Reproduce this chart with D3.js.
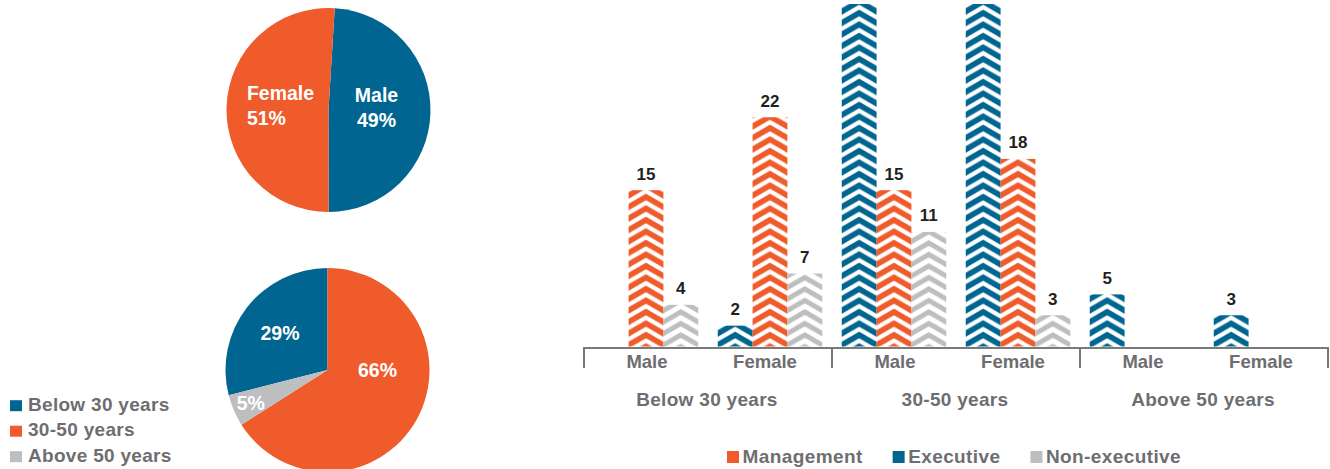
<!DOCTYPE html>
<html>
<head>
<meta charset="utf-8">
<script src="https://cdn.jsdelivr.net/npm/d3@7"></script>
<style>
  html, body { margin: 0; padding: 0; background: #fff; }
  svg { display: block; font-family: "Liberation Sans", Arial, Helvetica, sans-serif; font-weight: bold; }
</style>
</head>
<body>
<svg id="chart" width="1330" height="469"></svg>
<script>
// ---- Data ----
const genderLabels = ["Male", "Female"];
const genderShares = [49, 51];

const ageLabels = ["Below 30 years", "30-50 years", "Above 50 years"];
const ageShares = [29, 66, 5];

const roleLabels = ["Management", "Executive", "Non-executive"];
// one value per (age group, gender): Below30 M/F, 30-50 M/F, Above50 M/F
const management   = [15, 22, 15, 18, 0, 0];
const executive    = [0, 2, 43, 41, 5, 3];
const nonExecutive = [4, 7, 11, 3, 0, 0];

// ---- Styling ----
const ORANGE = "#EF5B2A", BLUE = "#006590", GRAY = "#BCBEC0";
const TEXT_GRAY = "#6D6E71", TEXT_DARK = "#231F20";
const roleColor = { "Management": ORANGE, "Executive": BLUE, "Non-executive": GRAY };
const ageColor = [BLUE, ORANGE, GRAY];
const genderColor = [BLUE, ORANGE];

const svg = d3.select("#chart");
const defs = svg.append("defs");

// ---- Pie helper ----
function drawPie(cx, cy, r, values, colors, startAngle, labelFn, labelRadius) {
  const pie = d3.pie().sort(null).value(d => d)
    .startAngle(startAngle).endAngle(startAngle + 2 * Math.PI);
  const arcs = pie(values);
  const arc = d3.arc().innerRadius(0).outerRadius(r);
  const g = svg.append("g").attr("transform", `translate(${cx},${cy})`);
  g.selectAll("path").data(arcs).join("path")
    .attr("d", arc)
    .attr("fill", (d, i) => colors[i]);
  const lg = g.append("g").attr("fill", "#fff").style("font-size", "19.5px");
  arcs.forEach((d, i) => {
    const span = d.endAngle - d.startAngle;
    let a = (d.startAngle + d.endAngle) / 2;
    // wide slices carry their label toward 3 o'clock when it falls inside them
    if (span > Math.PI) {
      let e = Math.PI / 2;
      while (e < d.startAngle) e += 2 * Math.PI;
      if (e <= d.endAngle) a = e;
    }
    const rr = labelRadius(d, r);
    const x = Math.sin(a) * rr, y = -Math.cos(a) * rr;
    labelFn(lg, d, i, x, y);
  });
}

// ---- Pie: gender split ----
drawPie(328.5, 110, 102, genderShares, genderColor, 3.5 * Math.PI / 180,
  (lg, d, i, x, y) => {
    const t = lg.append("text");
    t.append("tspan").attr("y", y - 9).text(genderLabels[i]);
    t.append("tspan").attr("y", y + 16).text(genderShares[i] + "%");
    const spans = t.selectAll("tspan");
    if (x < 0) {
      // left-justified block centred on the label point
      const w = d3.max(spans.nodes(), n => n.getComputedTextLength());
      spans.attr("x", x - w / 2).attr("text-anchor", "start");
    } else {
      spans.attr("x", x).attr("text-anchor", "middle");
    }
  },
  () => 48);

// ---- Pie: age split ----
drawPie(327.5, 370, 102, ageShares, ageColor, -104.4 * Math.PI / 180,
  (lg, d, i, x, y) => {
    lg.append("text").attr("x", x).attr("y", y + 6.5)
      .attr("text-anchor", "middle").text(ageShares[i] + "%");
  },
  (d, r) => (d.endAngle - d.startAngle) < 0.5 ? r * 0.82 : (d.endAngle - d.startAngle) > Math.PI ? r * 0.49 : r * 0.59);

// ---- Age legend ----
const ageLegend = svg.append("g").style("font-size", "19px");
ageLabels.forEach((lab, i) => {
  const base = 410.7 + i * 25.5;
  ageLegend.append("rect").attr("x", 10).attr("y", base - 10.5).attr("width", 12).attr("height", 11)
    .attr("fill", ageColor[i]);
  ageLegend.append("text").attr("x", 28).attr("y", base).attr("fill", TEXT_GRAY)
    .style("letter-spacing", "0.3px").text(lab);
});

// ---- Clustered bars ----
const barOrder = ["Executive", "Management", "Non-executive"];
const seriesValues = { "Management": management, "Executive": executive, "Non-executive": nonExecutive };
const cells = [];
ageLabels.forEach((age, gi) => genderLabels.forEach((gen, si) => {
  const idx = gi * 2 + si;
  barOrder.forEach(role => cells.push({ age, gen, role, value: seriesValues[role][idx] }));
}));

const x0 = d3.scaleBand().domain(ageLabels).range([584, 1328]);
const x1 = d3.scaleBand().domain(genderLabels).range([0, x0.bandwidth()]);
const x2 = d3.scaleBand().domain(barOrder).range([0, x1.bandwidth()]).paddingInner(0).paddingOuter(0.28);
const y = d3.scaleLinear().domain([0, 30]).range([346.5, 346.5 - 30 * 10.42]);
const plotTop = 4;

defs.append("clipPath").attr("id", "plotClip")
  .append("rect").attr("x", 580).attr("y", plotTop).attr("width", 750).attr("height", 350);

const bars = cells.filter(c => c.value > 0);
const bw = x2.bandwidth();
const P = 11.5, rise = 10;
const slope = rise / (bw / 2);
const cos = Math.cos(Math.atan(slope));

// chevron fill: one pattern per bar so the apex sits on the bar's centre line
bars.forEach((c, i) => {
  c.x = x0(c.age) + x1(c.gen) + x2(c.role);
  c.id = "chev" + i;
  const pat = defs.append("pattern").attr("id", c.id)
    .attr("patternUnits", "userSpaceOnUse")
    .attr("x", c.x).attr("y", y(0))
    .attr("width", bw).attr("height", P);
  const thick = (c.role === "Non-executive" ? 5.8 : 6.6) * cos;
  [-2, -1, 0, 1, 2].forEach(k => {
    const top = k * P, edge = top + rise + 3 * slope;
    pat.append("polyline")
      .attr("points", `-3,${edge} ${bw / 2},${top} ${bw + 3},${edge}`)
      .attr("fill", "none").attr("stroke", roleColor[c.role])
      .attr("stroke-width", thick).attr("stroke-linejoin", "miter");
  });
});

const plot = svg.append("g").attr("clip-path", "url(#plotClip)");
plot.selectAll("rect.bar").data(bars).join("rect")
  .attr("class", "bar")
  .attr("x", d => d.x).attr("width", bw)
  .attr("y", d => Math.max(y(d.value), plotTop)).attr("height", d => y(0) - Math.max(y(d.value), plotTop))
  .attr("fill", d => `url(#${d.id})`);

// value labels only for bars whose top lies inside the plot
svg.append("g").style("font-size", "17px").attr("fill", TEXT_DARK)
  .selectAll("text").data(bars.filter(d => y(d.value) - 10.5 - 13 > plotTop)).join("text")
  .attr("x", d => d.x + bw / 2).attr("y", d => y(d.value) - 10.5)
  .attr("text-anchor", "middle").text(d => d.value);

// ---- Category axis ----
const axisG = svg.append("g").attr("stroke", "#7A7A7A").attr("stroke-width", 2);
axisG.append("line").attr("x1", 583).attr("x2", 1329).attr("y1", 348).attr("y2", 348);
const bounds = ageLabels.map(a => x0(a)).concat([x0.range()[1]]);
axisG.selectAll("line.sep").data(bounds).join("line").attr("class", "sep")
  .attr("x1", d => d).attr("x2", d => d).attr("y1", 347).attr("y2", 368);

const genG = svg.append("g").style("font-size", "18.5px").attr("fill", TEXT_GRAY).attr("text-anchor", "middle");
ageLabels.forEach(age => genderLabels.forEach(gen => {
  genG.append("text").attr("x", x0(age) + x1(gen) + x1.bandwidth() / 2 + (gen === "Female" ? -5 : 1))
    .attr("y", 368).text(gen);
}));
svg.append("g").style("font-size", "19px").attr("fill", TEXT_GRAY).attr("text-anchor", "middle")
  .selectAll("text").data(ageLabels).join("text")
  .attr("x", d => x0(d) + x0.bandwidth() / 2 - 1).attr("y", 406)
  .style("letter-spacing", "0.3px").text(d => d);

// ---- Role legend ----
const roleLegend = svg.append("g").style("font-size", "19px");
let lx = 727;
roleLabels.forEach(role => {
  roleLegend.append("rect").attr("x", lx).attr("y", 451).attr("width", 12).attr("height", 12)
    .attr("fill", roleColor[role]);
  const t = roleLegend.append("text").attr("x", lx + 15.5).attr("y", 463).attr("fill", TEXT_GRAY)
    .style("letter-spacing", "0.4px").text(role);
  lx += 15.5 + t.node().getComputedTextLength() + 30;
});
</script>
</body>
</html>
